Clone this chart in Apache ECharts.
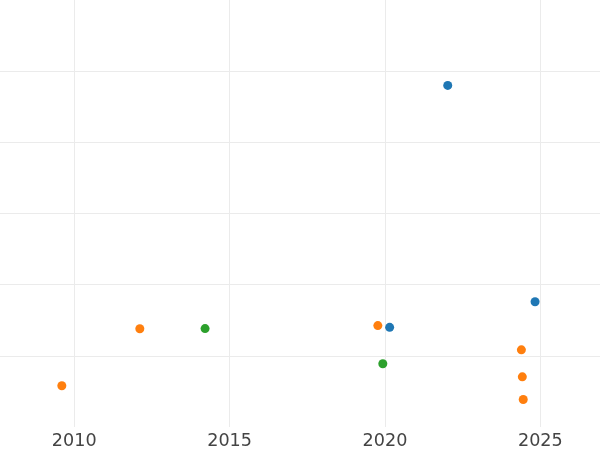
<!DOCTYPE html>
<html>
<head>
<meta charset="utf-8">
<script src="https://cdn.jsdelivr.net/npm/echarts@6/dist/echarts.min.js"></script>
<style>html,body{margin:0;padding:0;background:#fff}#c{width:600px;height:450px}</style>
</head>
<body>
<div id="c"></div>
<script>
// x = year, y = value (arbitrary units, no y labels shown)
const blueX = [2022.02, 2024.83, 2020.15];
const blueY = [4.80, 1.76, 1.40];
const orangeX = [2009.60, 2012.11, 2019.77, 2024.39, 2024.42, 2024.45];
const orangeY = [0.58, 1.38, 1.425, 1.084, 0.705, 0.387];
const greenX = [2014.21, 2019.93];
const greenY = [1.383, 0.888];
const xRange = [2007.61, 2026.92];
const yRange = [0, 6];

const zip = (xs, ys) => xs.map((x, i) => [x, ys[i]]);
const chart = echarts.init(document.getElementById('c'), null, {renderer: 'canvas'});
chart.setOption({
  animation: false,
  backgroundColor: '#ffffff',
  grid: {left: 0, right: 0, top: 0, bottom: 22.75, containLabel: false},
  xAxis: {
    type: 'value', min: xRange[0], max: xRange[1], splitNumber: 4,
    axisLine: {show: false}, axisTick: {show: false},
    axisLabel: {color: '#444444', fontSize: 17.6, fontFamily: 'DejaVu Sans', margin: 5,
      showMinLabel: false, showMaxLabel: false, formatter: v => String(Math.round(v))},
    splitLine: {show: true, showMinLine: false, showMaxLine: false, lineStyle: {color: '#ebebeb', width: 1}}
  },
  yAxis: {
    type: 'value', min: yRange[0], max: yRange[1], interval: 1,
    axisLine: {show: false}, axisTick: {show: false}, axisLabel: {show: false},
    splitLine: {show: true, showMinLine: false, showMaxLine: false, lineStyle: {color: '#ebebeb', width: 1}}
  },
  series: [
    {name: 'A', type: 'scatter', data: zip(blueX, blueY), symbolSize: 9, itemStyle: {color: '#1f77b4', opacity: 1}},
    {name: 'B', type: 'scatter', data: zip(orangeX, orangeY), symbolSize: 9, itemStyle: {color: '#ff7f0e', opacity: 1}},
    {name: 'C', type: 'scatter', data: zip(greenX, greenY), symbolSize: 9, itemStyle: {color: '#2ca02c', opacity: 1}}
  ]
});
</script>
</body>
</html>
